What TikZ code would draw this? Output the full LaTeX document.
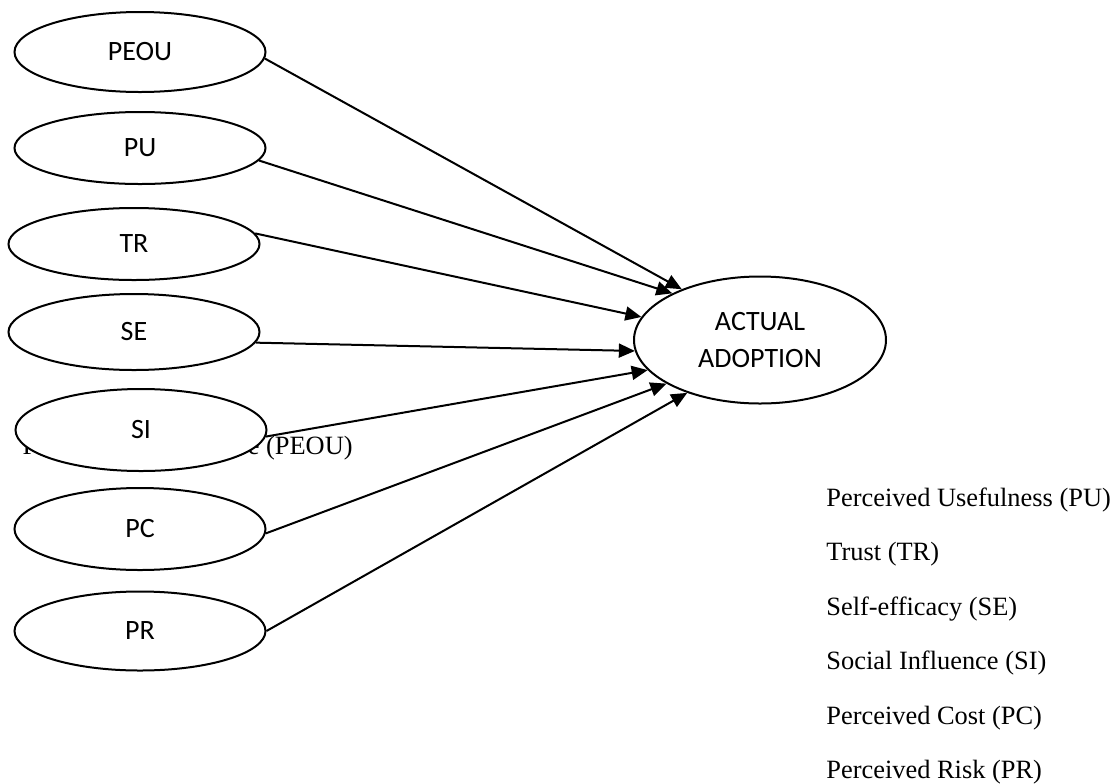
\documentclass[tikz,border=0pt]{standalone}
\usepackage{fontspec}
\setmainfont{Liberation Serif}
\newfontfamily\calibri{Carlito}
\usetikzlibrary{shapes.geometric,arrows.meta}

\begin{document}
\begin{tikzpicture}[x=0.5pt,y=-0.5pt,
    factor/.style={ellipse, draw, line width=1pt, fill=white, inner sep=0pt,
        minimum width=125.5pt, font=\calibri\fontsize{14pt}{18.5pt}\selectfont},
    legend/.style={anchor=base west, inner sep=0pt,
        font=\fontsize{13.2pt}{16pt}\selectfont},
    link/.style={line width=1pt, -{Triangle[length=8pt,width=7pt]}}]
    \useasboundingbox (0,0) rectangle (1115,783);

    % Legend, first line ends up behind the SI ellipse
    \node[legend, anchor=base east] (lpeou) at (353,454) {Perceived Ease of Use (PEOU)};
    \node[legend] (lpu) at (826,506) {Perceived Usefulness (PU)};
    \node[legend] (ltr) at (826,560) {Trust (TR)};
    \node[legend] (lse) at (826,615) {Self-efficacy (SE)};
    \node[legend] (lsi) at (826,669) {Social Influence (SI)};
    \node[legend] (lpc) at (826,724) {Perceived Cost (PC)};
    \node[legend] (lpr) at (826,778) {Perceived Risk (PR)};

    % Factors
    \node[factor, minimum height=40pt] (peou) at (140,52) {PEOU};
    \node[factor, minimum height=36pt] (pu) at (140,148) {PU};
    \node[factor, minimum height=36pt] (tr) at (134,244) {TR};
    \node[factor, minimum height=38pt] (se) at (134,332) {SE};
    \node[factor, minimum height=41pt] (si) at (141,430) {SI};
    \node[factor, minimum height=41pt] (pc) at (140,529) {PC};
    \node[factor, minimum height=39.5pt] (pr) at (140,631) {PR};

    \node[factor, minimum width=126pt, minimum height=63.5pt, align=center]
        (adopt) at (760,340) {ACTUAL\\ADOPTION};

    % Paths into adoption
    \draw[link] (peou.-3) -- (adopt.147);
    \draw[link] (pu.-6) -- (adopt.152);
    \draw[link] (tr.5) -- (adopt.169);
    \draw[link] (se.-5) -- (adopt.185);
    \draw[link] (si.-3) -- (adopt.195);
    \draw[link] (pc.-2) -- (adopt.205.5);
    \draw[link] (pr.east) -- (adopt.216);
\end{tikzpicture}
\end{document}
